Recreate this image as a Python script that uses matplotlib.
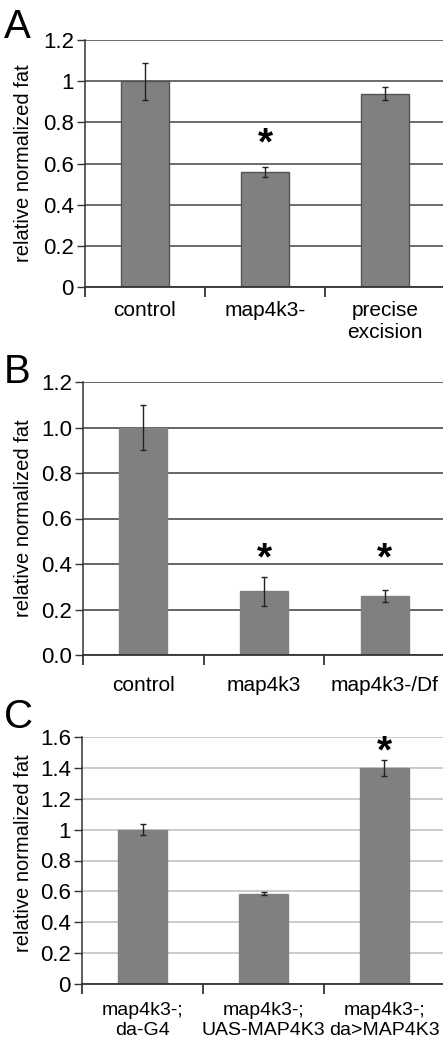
import matplotlib.pyplot as plt

plt.rcParams['font.family'] = ['Liberation Sans', 'DejaVu Sans']

# Panel A
labels_a = ['control', 'map4k3-', 'precise\nexcision']
values_a = [1.0, 0.56, 0.94]
errors_a = [0.09, 0.025, 0.03]
stars_a = [False, True, False]

# Panel B
labels_b = ['control', 'map4k3', 'map4k3-/Df']
values_b = [1.0, 0.28, 0.26]
errors_b = [0.10, 0.065, 0.025]
stars_b = [False, True, True]

# Panel C
labels_c = ['map4k3-;\nda-G4', 'map4k3-;\nUAS-MAP4K3', 'map4k3-;\nda>MAP4K3']
values_c = [1.0, 0.585, 1.40]
errors_c = [0.035, 0.01, 0.05]
stars_c = [False, False, True]

W, H = 443, 1046
fig = plt.figure(figsize=(W / 100, H / 100), dpi=100)


def panel(rect, letter, letter_y, labels, values, errors, stars, ymax, yticks,
          ticklabels, grid_color, bar_edge, star_y, xlab_pad, xlab_size, ylab_xy):
    left, top, bottom = rect
    ax = fig.add_axes([left / W, 1 - bottom / H, (445 - left) / W, (bottom - top) / H])
    x = range(len(values))
    ax.set_axisbelow(True)
    for t in yticks:
        ax.axhline(t, color=grid_color, lw=1.1, zorder=0)
    ax.bar(x, values, width=0.4, color='#808080',
           edgecolor=bar_edge if bar_edge else '#808080', linewidth=1.0, zorder=2)
    ax.errorbar(x, values, yerr=errors, fmt='none', ecolor='#222222',
                elinewidth=1.0, capsize=2.5, capthick=1.0, zorder=3)
    for i, s in enumerate(stars):
        if s:
            ax.text(i, star_y, '*', ha='center', va='center', fontsize=28,
                    fontweight='bold', zorder=4)
    ax.set_xlim(-0.5, len(values) - 0.5)
    ax.set_ylim(0, ymax)
    ax.set_yticks(yticks)
    ax.set_yticklabels(ticklabels)
    ax.set_xticks(list(x))
    ax.set_xticklabels(labels, linespacing=1.2)
    ax.set_xticks([-0.5, 0.5, 1.5], minor=True)
    ax.tick_params(axis='x', which='major', length=0, pad=xlab_pad,
                   labelsize=xlab_size)
    ax.tick_params(axis='x', which='minor', length=7, width=1.2, color='#222222',
                   direction='out')
    ax.tick_params(axis='y', length=6, width=1.0, pad=2, labelsize=16,
                   color='#333333')
    for side in ['top', 'right']:
        ax.spines[side].set_visible(False)
    ax.spines['left'].set_color('#333333')
    ax.spines['bottom'].set_color('#333333')
    ax.spines['left'].set_linewidth(1.1)
    ax.spines['bottom'].set_linewidth(1.3)
    ax.set_ylabel('relative normalized fat', fontsize=14.5)
    ax.yaxis.set_label_coords(*ylab_xy)
    fig.text(4 / W, 1 - letter_y / H, letter, fontsize=29, va='top', ha='left')
    return ax


panel((85, 40, 287), 'A', 8, labels_a, values_a, errors_a, stars_a, 1.2,
      [0, 0.2, 0.4, 0.6, 0.8, 1.0, 1.2], ['0', '0.2', '0.4', '0.6', '0.8', '1', '1.2'],
      '#444444', '#555555', 0.69, 10, 15, (-0.144, 0.5))

panel((83, 382, 655), 'B', 353, labels_b, values_b, errors_b, stars_b, 1.2,
      [0, 0.2, 0.4, 0.6, 0.8, 1.0, 1.2], ['0.0', '0.2', '0.4', '0.6', '0.8', '1.0', '1.2'],
      '#3a3a3a', None, 0.42, 15, 15, (-0.139, 0.5))

panel((82, 737, 984), 'C', 698, labels_c, values_c, errors_c, stars_c, 1.6,
      [0, 0.2, 0.4, 0.6, 0.8, 1.0, 1.2, 1.4, 1.6],
      ['0', '0.2', '0.4', '0.6', '0.8', '1', '1.2', '1.4', '1.6'],
      '#bdbdbd', None, 1.50, 13, 14, (-0.136, 0.53))

fig.savefig('out.png', dpi=100)
